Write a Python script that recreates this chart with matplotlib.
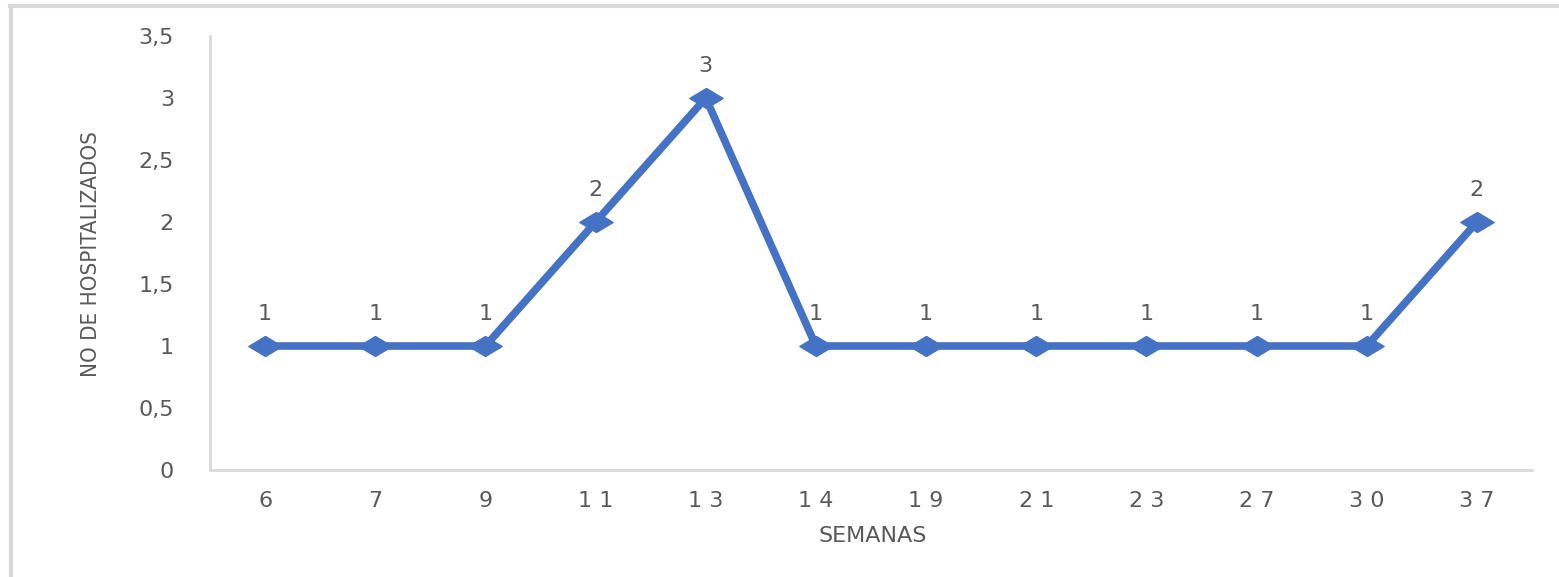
import matplotlib
matplotlib.use("Agg")
import matplotlib.pyplot as plt
from matplotlib.path import Path
from matplotlib.lines import Line2D

semanas = ["6", "7", "9", "11", "13", "14", "19", "21", "23", "27", "30", "37"]
hospitalizados = [1, 1, 1, 2, 3, 1, 1, 1, 1, 1, 1, 2]
y_ticks = [0, 0.5, 1, 1.5, 2, 2.5, 3, 3.5]
y_tick_labels = ["0", "0,5", "1", "1,5", "2", "2,5", "3", "3,5"]

BLUE = "#4472C4"
GREY_TXT = "#595959"
GREY_LINE = "#D9D9D9"

fig = plt.figure(figsize=(15.59, 5.77), dpi=100)
W, H = 1559, 577
ax = fig.add_axes([210 / W, 1 - 470 / H, (1532 - 210) / W, (470 - 36) / H])

# figure border (top and left visible)
fig.add_artist(Line2D([10 / W, 1.0], [1 - 6 / H, 1 - 6 / H], transform=fig.transFigure,
                      color=GREY_LINE, lw=3))
fig.add_artist(Line2D([11 / W, 11 / W], [0, 1 - 6 / H], transform=fig.transFigure,
                      color=GREY_LINE, lw=3))

diamond = Path([(-1, 0), (0, 0.6), (1, 0), (0, -0.6), (-1, 0)],
               [Path.MOVETO, Path.LINETO, Path.LINETO, Path.LINETO, Path.CLOSEPOLY])

x = list(range(len(semanas)))
ax.plot(x, hospitalizados, color=BLUE, lw=5.5, marker=diamond, markersize=24,
        markerfacecolor=BLUE, markeredgecolor=BLUE, solid_joinstyle="miter")

for xi, yi in zip(x, hospitalizados):
    ax.annotate(str(yi), (xi, yi), xytext=(0, 16), textcoords="offset points",
                ha="center", va="bottom", fontsize=16, color=GREY_TXT)

ax.set_xlim(-0.5, len(semanas) - 0.5)
ax.set_ylim(0, 3.5)
ax.set_xticks(x)
ax.set_xticklabels([" ".join(s) for s in semanas], fontsize=16, color=GREY_TXT)
ax.set_yticks(y_ticks)
ax.set_yticklabels(y_tick_labels, fontsize=16, color=GREY_TXT)
ax.tick_params(axis="both", length=0)
ax.tick_params(axis="x", pad=15)
ax.tick_params(axis="y", pad=26)

for s in ["top", "right"]:
    ax.spines[s].set_visible(False)
for s in ["left", "bottom"]:
    ax.spines[s].set_color(GREY_LINE)
    ax.spines[s].set_linewidth(2)

fig.text(873 / W, 1 - 536 / H, "SEMANAS", ha="center", va="center",
         fontsize=16, color=GREY_TXT)
fig.text(91 / W, 1 - 254 / H, "NO DE HOSPITALIZADOS", ha="center", va="center",
         rotation=90, fontsize=16, color=GREY_TXT, fontstretch="condensed")

fig.savefig("out.png", dpi=100)
